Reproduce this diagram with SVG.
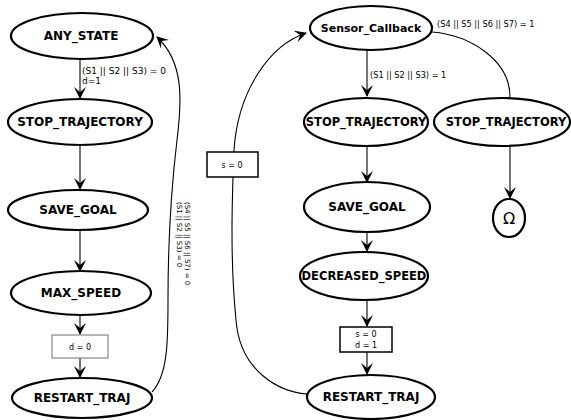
<svg xmlns="http://www.w3.org/2000/svg" width="571" height="420" viewBox="0 0 571 420">
<style>
.node ellipse{fill:#fff;stroke:#000;stroke-width:2.2}
.node text{font-family:"DejaVu Sans",sans-serif;font-weight:bold;font-size:12px;text-anchor:middle;dominant-baseline:central}
.edge{fill:none;stroke:#000;stroke-width:1.1}
.lbl{font-family:"DejaVu Sans",sans-serif;font-size:8.2px;fill:#000}
.box rect{fill:#fff;stroke:#000;stroke-width:1.5}
.box text{font-family:"DejaVu Sans",sans-serif;font-size:8px;text-anchor:middle;dominant-baseline:central}
</style>
<defs>
<marker id="vee" viewBox="0 0 12 12" refX="11" refY="6" markerWidth="12" markerHeight="12" markerUnits="userSpaceOnUse" orient="auto">
<path d="M0,0 L12,6 L0,12 L5,6 Z" fill="#000"/>
</marker>
</defs>
<rect width="571" height="420" fill="#fff"/>
<g id="connectors">
<path class="edge" d="M80,60 L80,98" marker-end="url(#vee)"/>
<path class="edge" d="M80,145 L80,189" marker-end="url(#vee)"/>
<path class="edge" d="M80,230 L80,271" marker-end="url(#vee)"/>
<path class="edge" d="M80,315 L80,334" marker-end="url(#vee)"/>
<path class="edge" d="M80,358 L80,377" marker-end="url(#vee)"/>
<path class="edge" d="M152,392 C168,375 168,340 168,300 C168,250 171,190 177,140 C182,100 184,62 157,37" marker-end="url(#vee)"/>
<path class="edge" d="M307,394 C280,392 240,372 236,320 C230,260 232,200 234,150 C238,90 270,45 306,33" marker-end="url(#vee)"/>
<path class="edge" d="M367,50 L367,96" marker-end="url(#vee)"/>
<path class="edge" d="M432,32 C470,35 510,60 510,97"/>
<path class="edge" d="M510,147 L510,198" marker-end="url(#vee)"/>
<path class="edge" d="M367,147 L367,182" marker-end="url(#vee)"/>
<path class="edge" d="M367,232 L367,251" marker-end="url(#vee)"/>
<path class="edge" d="M367,300 L367,326" marker-end="url(#vee)"/>
<path class="edge" d="M367,352 L367,374" marker-end="url(#vee)"/>
<text class="lbl" x="82" y="74" style="font-size:9px">(S1 || S2 || S3) = 0</text>
<text class="lbl" x="82" y="84" style="font-size:9px">d=1</text>
<text class="lbl" transform="translate(185,202) rotate(90)" style="font-size:7px">(S4 || S5 || S6 || S7) = 0</text>
<text class="lbl" transform="translate(177,202) rotate(90)" style="font-size:7px">(S1 || S2 || S3) = 0</text>
<text class="lbl" x="437" y="27">(S4 || S5 || S6 || S7) = 1</text>
<text class="lbl" x="370" y="78">(S1 || S2 || S3) = 1</text>
</g>
<g id="any_state" class="node"><ellipse cx="82" cy="36" rx="71" ry="23"/><text x="81" y="36">ANY_STATE</text></g>
<g id="stop_traj_l" class="node"><ellipse cx="80" cy="122" rx="72" ry="23"/><text x="80" y="122">STOP_TRAJECTORY</text></g>
<g id="save_goal_l" class="node"><ellipse cx="78" cy="210" rx="70" ry="20"/><text x="78" y="210">SAVE_GOAL</text></g>
<g id="max_speed" class="node"><ellipse cx="81" cy="293" rx="70" ry="22"/><text x="81" y="293">MAX_SPEED</text></g>
<g id="d0" class="box"><rect x="52" y="335" width="56" height="23" style="stroke:#888;stroke-width:1.2"/><text x="80" y="347">d = 0</text></g>
<g id="restart_l" class="node"><ellipse cx="82" cy="398" rx="70" ry="20"/><text x="82" y="398">RESTART_TRAJ</text></g>
<g id="s0" class="box"><rect x="207" y="152" width="51" height="25"/><text x="232" y="165">s = 0</text></g>
<g id="sensor" class="node"><ellipse cx="371" cy="28" rx="61" ry="22"/><text x="371" y="28" style="font-size:11px">Sensor_Callback</text></g>
<g id="stop_traj_r" class="node"><ellipse cx="366" cy="122" rx="62" ry="24"/><text x="366" y="122" style="font-size:11.5px">STOP_TRAJECTORY</text></g>
<g id="stop_traj_r2" class="node"><ellipse cx="502" cy="122" rx="68" ry="24"/><text x="506" y="122" style="font-size:11.5px">STOP_TRAJECTORY</text></g>
<g id="omega" class="node"><ellipse cx="509" cy="218" rx="16" ry="19"/><text x="509" y="218" style="font-size:16px;font-weight:normal">Ω</text></g>
<g id="save_goal_r" class="node"><ellipse cx="367" cy="207" rx="63" ry="25"/><text x="367" y="207">SAVE_GOAL</text></g>
<g id="decreased" class="node"><ellipse cx="364" cy="276" rx="64" ry="24"/><text x="364" y="276" style="font-size:11.5px">DECREASED_SPEED</text></g>
<g id="s0d1" class="box"><rect x="340" y="327" width="52" height="25"/><text x="366" y="334">s = 0</text><text x="366" y="345">d = 1</text></g>
<g id="restart_r" class="node"><ellipse cx="371" cy="397" rx="64" ry="22"/><text x="371" y="397">RESTART_TRAJ</text></g>
</svg>
